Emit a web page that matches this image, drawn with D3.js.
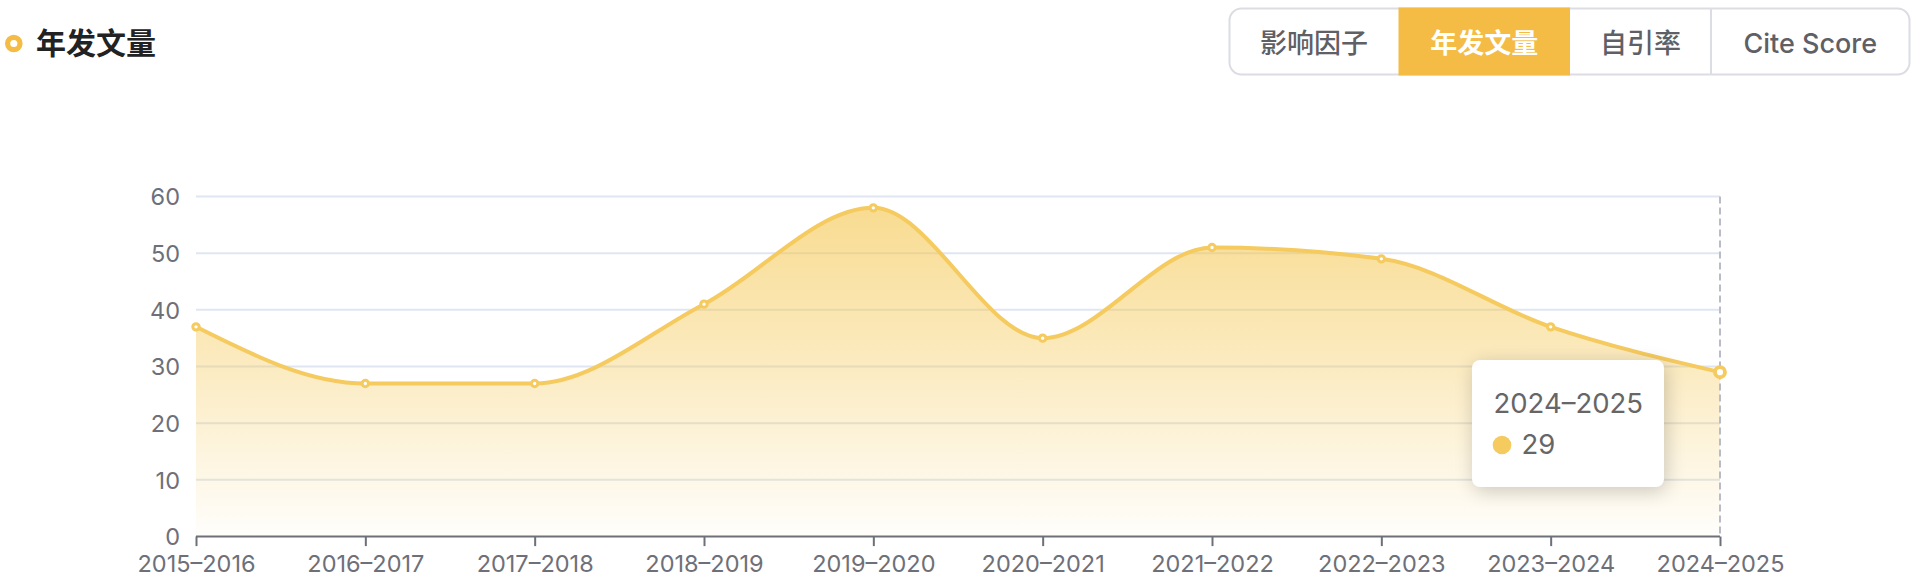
<!DOCTYPE html>
<html>
<head>
<meta charset="utf-8">
<script src="https://cdn.jsdelivr.net/npm/d3@7"></script>
<style>
  html, body { margin: 0; padding: 0; background: #fff; }
  body { width: 1918px; height: 580px; overflow: hidden; position: relative;
         font-family: Inter, "Noto Sans CJK SC", sans-serif; }
  svg { position: absolute; left: 0; top: 0; }
  .tip { position: absolute; left: 1472px; top: 360px; width: 192px; height: 127px;
         box-sizing: border-box; background: #fff; border-radius: 8px;
         box-shadow: rgba(0,0,0,0.2) 2px 4px 19px; font-family: Inter, "Noto Sans CJK SC", sans-serif;
         color: #666; }
</style>
</head>
<body>
<script>
const categories = ["2015–2016","2016–2017","2017–2018","2018–2019","2019–2020","2020–2021","2021–2022","2022–2023","2023–2024","2024–2025"];
const values = [37, 27, 27, 41, 58, 35, 51, 49, 37, 29];
const yTicks = [0, 10, 20, 30, 40, 50, 60];
const buttons = ["影响因子", "年发文量", "自引率", "Cite Score"];
const activeButton = "年发文量";
const title = "年发文量";
const hoverIndex = 9;

const W = 1918, H = 580;
const margin = {left: 196, right: 198, top: 196.5, bottom: 43.5};
const accent = "#F4BC45";
const lineColor = "#F5CA5F";

const svg = d3.select("body").append("svg").attr("width", W).attr("height", H);

// Title
svg.append("circle").attr("cx", 13.8).attr("cy", 43.5).attr("r", 6.2)
  .attr("fill", "#fff").attr("stroke", accent).attr("stroke-width", 5.2);
svg.append("text").attr("x", 36).attr("y", 53.5).text(title)
  .attr("font-family", "'Noto Sans CJK SC', sans-serif").attr("font-size", 30)
  .attr("font-weight", 700).attr("fill", "#222");

// Buttons
const btnEdges = [1229.5, 1398.5, 1570, 1711, 1909.5];
const bTop = 8.5, bBot = 74.5, bR = 12;
const bg = svg.append("g");
bg.append("rect").attr("x", btnEdges[0]).attr("y", bTop)
  .attr("width", btnEdges[4] - btnEdges[0]).attr("height", bBot - bTop)
  .attr("rx", bR).attr("fill", "#fff").attr("stroke", "#DCDDE3").attr("stroke-width", 2);
buttons.forEach((b, i) => {
  const x0 = btnEdges[i], x1 = btnEdges[i + 1];
  const active = b === activeButton;
  if (active) {
    bg.append("rect").attr("x", x0).attr("y", bTop - 1).attr("width", x1 - x0)
      .attr("height", bBot - bTop + 2).attr("fill", accent);
  } else if (i > 0 && buttons[i - 1] !== activeButton) {
    bg.append("line").attr("x1", x0).attr("x2", x0).attr("y1", bTop).attr("y2", bBot)
      .attr("stroke", "#DCDDE3").attr("stroke-width", 2);
  }
  bg.append("text").attr("x", (x0 + x1) / 2).attr("y", 52.5).attr("text-anchor", "middle")
    .attr("font-size", 27).attr("font-weight", active ? 700 : 500)
    .attr("fill", active ? "#fff" : "#5F6066").text(b);
});

// Scales
const x = d3.scalePoint().domain(categories).range([margin.left, W - margin.right]);
const y = d3.scaleLinear().domain([0, 60]).range([H - margin.bottom, margin.top]);

// Grid lines
svg.append("g").selectAll("line").data(yTicks.filter(d => d > 0)).join("line")
  .attr("x1", margin.left).attr("x2", W - margin.right)
  .attr("y1", d => y(d)).attr("y2", d => y(d))
  .attr("stroke", "#E0E6F1").attr("stroke-width", 2);

// Y axis labels
const yAxis = d3.axisLeft(y).tickValues(yTicks).tickSize(0).tickPadding(16);
const yG = svg.append("g").attr("transform", `translate(${margin.left},0)`).call(yAxis);
yG.select(".domain").remove();
yG.selectAll("text").attr("font-family", "Inter, sans-serif").attr("font-size", 23.5)
  .attr("fill", "#6E7079").attr("dy", "0.36em");

// Gradient
const defs = svg.append("defs");
const grad = defs.append("linearGradient").attr("id", "areaGrad")
  .attr("gradientUnits", "userSpaceOnUse")
  .attr("x1", 0).attr("x2", 0).attr("y1", y(d3.max(values))).attr("y2", y(0));
grad.append("stop").attr("offset", 0).attr("stop-color", "#F4C448").attr("stop-opacity", 0.6);
grad.append("stop").attr("offset", 0.5).attr("stop-color", "#F4C448").attr("stop-opacity", 0.33);
grad.append("stop").attr("offset", 1).attr("stop-color", "#F4C448").attr("stop-opacity", 0.02);

const area = d3.area().x((d, i) => x(categories[i])).y0(y(0)).y1(d => y(d)).curve(d3.curveMonotoneX);
const line = d3.line().x((d, i) => x(categories[i])).y(d => y(d)).curve(d3.curveMonotoneX);

svg.append("path").datum(values).attr("d", area).attr("fill", "url(#areaGrad)");

// Axis pointer (dashed)
svg.append("line").attr("x1", x(categories[hoverIndex])).attr("x2", x(categories[hoverIndex]))
  .attr("y1", margin.top).attr("y2", y(0))
  .attr("stroke", "#B9BBC8").attr("stroke-width", 2).attr("stroke-dasharray", "7,4");

// X axis
const xAxis = d3.axisBottom(x).tickSize(9.6).tickPadding(8);
const xG = svg.append("g").attr("transform", `translate(0,${y(0)})`).call(xAxis);
xG.select(".domain").attr("stroke", "#6E7079").attr("stroke-width", 2)
  .attr("d", `M${margin.left},0H${W - margin.right}`);
xG.selectAll(".tick line").attr("stroke", "#6E7079").attr("stroke-width", 2);
xG.selectAll("text").attr("font-family", "Inter, sans-serif").attr("font-size", 23.5)
  .attr("fill", "#6E7079").attr("y", 35.5).attr("dy", 0);

// Line
svg.append("path").datum(values).attr("d", line).attr("fill", "none")
  .attr("stroke", lineColor).attr("stroke-width", 4);

// Points
svg.append("g").selectAll("circle").data(values).join("circle")
  .attr("cx", (d, i) => x(categories[i])).attr("cy", d => y(d))
  .attr("r", (d, i) => i === hoverIndex ? 5 : 3.2)
  .attr("fill", "#fff").attr("stroke", lineColor)
  .attr("stroke-width", (d, i) => i === hoverIndex ? 3.8 : 3);

// Tooltip
const tip = d3.select("body").append("div").attr("class", "tip");
const tsvg = tip.append("svg").attr("width", 192).attr("height", 127);
tsvg.append("text").attr("x", 21.5).attr("y", 52.7).attr("font-size", 27.5)
  .attr("font-family", "Inter, sans-serif").attr("fill", "#666").text(categories[hoverIndex]);
tsvg.append("circle").attr("cx", 30).attr("cy", 85).attr("r", 9.3).attr("fill", lineColor);
tsvg.append("text").attr("x", 49.5).attr("y", 94).attr("font-size", 27.5)
  .attr("font-family", "Inter, sans-serif").attr("fill", "#666").text(values[hoverIndex]);
</script>
</body>
</html>
